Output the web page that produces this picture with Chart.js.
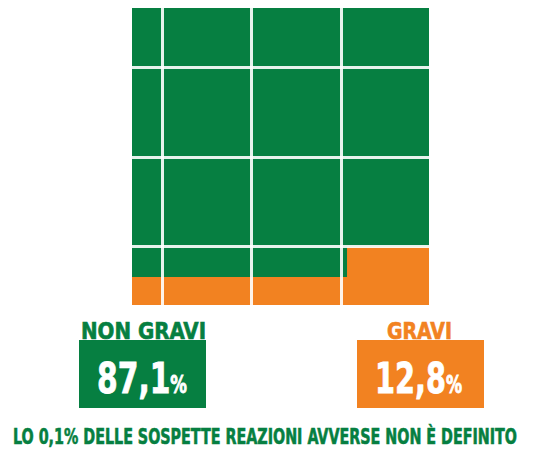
<!DOCTYPE html>
<html lang="it">
<head>
<meta charset="utf-8">
<script src="https://cdn.jsdelivr.net/npm/chart.js@4/dist/chart.umd.min.js"></script>
<style>
  html,body{margin:0;padding:0;background:#fff;}
  body{width:558px;height:449px;position:relative;overflow:hidden;
    font-family:"Liberation Sans Narrow","DejaVu Sans Condensed","Roboto",sans-serif;font-weight:700;}
  #wrap{position:absolute;left:132px;top:8px;width:297px;height:297px;}
  .lbl{position:absolute;white-space:nowrap;transform-origin:0 0;line-height:1;-webkit-text-stroke:0.6px currentColor;}
  .box{position:absolute;height:68px;}
  .num{position:absolute;color:#fff;white-space:nowrap;transform-origin:0 0;line-height:1;-webkit-text-stroke:0.8px #fff;}
  .num small{font-size:24px;}
</style>
</head>
<body>
<div id="wrap"><canvas id="waffle"></canvas></div>
<div id="legend"></div>
<script>
// quote delle reazioni avverse
const categories = ['NON GRAVI', 'GRAVI'];
const shares = ['87,1', '12,8'];
const colors = ['#067f41', '#f28221'];
const note = 'LO 0,1% DELLE SOSPETTE REAZIONI AVVERSE NON È DEFINITO';

// righe/colonne bianche del quadrato (in % del lato)
const gridX = [10.4, 40.4, 70.4];
const gridY = [19.6, 49.8, 80.1];

// contorno superiore della zona arancione e della zona verde
const gravX = [0, 72.4, 72.4, 100];
const gravY = [9.4, 9.4, 19.6, 19.6];
const nonGravX = [0, 100];
const nonGravY = [100, 100];

const pts = (xs, ys) => xs.map((x, i) => ({x, y: ys[i]}));

function axis(vals, horiz){
  return {
    type:'linear', min:0, max:100,
    ticks:{display:false},
    border:{display:false},
    grid:{color:'rgba(255,255,255,0.9)', lineWidth:3, drawTicks:false, z:1},
    afterBuildTicks:s=>{ s.ticks = vals.map(v=>({value:v})); },
    afterFit:s=>{ if(horiz) s.height = 0; else s.width = 0; }
  };
}

new Chart(document.getElementById('waffle'), {
  type:'scatter',
  data:{ datasets:[
    {data:pts(gravX, gravY), showLine:true, fill:'origin', backgroundColor:colors[1], borderWidth:0, pointRadius:0},
    {data:pts(nonGravX, nonGravY), showLine:true, fill:'origin', backgroundColor:colors[0], borderWidth:0, pointRadius:0}
  ]},
  options:{ responsive:true, maintainAspectRatio:false, animation:false,
    layout:{padding:0},
    plugins:{legend:{display:false}, tooltip:{enabled:false}},
    scales:{ x:axis(gridX, true), y:axis(gridY, false) } }
});

// etichette sotto il grafico
const spots = [
  {box:[79,340,127], lbl:[81,320,125], num:[97,357,90]},
  {box:[357,340,127], lbl:[387,320,65], num:[375,357,87]}
];
const legend = document.getElementById('legend');
function fit(el, w){
  const r = el.getBoundingClientRect().width;
  el.style.transform = 'scaleX(' + (w / r) + ')';
}
categories.forEach((c, i) => {
  const s = spots[i];
  const box = document.createElement('div');
  box.className = 'box';
  box.style.cssText = `left:${s.box[0]}px;top:${s.box[1]}px;width:${s.box[2]}px;background:${colors[i]}`;
  legend.appendChild(box);
  const l = document.createElement('div');
  l.className = 'lbl';
  l.textContent = c;
  l.style.cssText = `left:${s.lbl[0]}px;top:${s.lbl[1]}px;color:${colors[i]};font-size:23px`;
  legend.appendChild(l);
  fit(l, s.lbl[2]);
  const n = document.createElement('div');
  n.className = 'num';
  n.innerHTML = shares[i] + '<small>%</small>';
  n.style.cssText = `left:${s.num[0]}px;top:${s.num[1]}px;font-size:43px`;
  legend.appendChild(n);
  fit(n, s.num[2]);
});
const f = document.createElement('div');
f.className = 'lbl';
f.textContent = note;
f.style.cssText = `left:13px;top:426px;color:${colors[0]};font-size:22px`;
legend.appendChild(f);
fit(f, 504);
</script>
</body>
</html>
